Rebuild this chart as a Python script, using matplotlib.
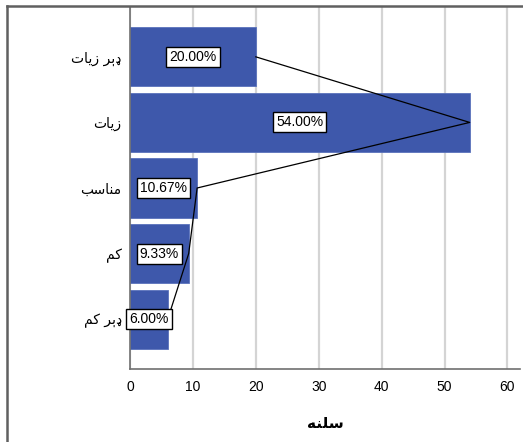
import matplotlib
matplotlib.use("Agg")
import matplotlib.pyplot as plt
from matplotlib.lines import Line2D

# Pashto labels, stored in shaped (visual) order since matplotlib has no bidi/shaping
categories = ["ﺕﺎﯾﺯ ﺮﯦډ", "ﺕﺎﯾﺯ", "ﺐﺳﺎﻨﻣ", "ﻢﮐ", "ﻢﮐ ﺮﯦډ"]
percents = [20.00, 54.00, 10.67, 9.33, 6.00]
xticks = [0, 10, 20, 30, 40, 50, 60]
xlabel = "ﻪﻨﻠﺳ"

plt.rcParams['font.family'] = ['Liberation Sans', 'DejaVu Sans']

fig = plt.figure(figsize=(5.23, 4.42), dpi=100)
W, H = 523, 442
ax = fig.add_axes([130 / W, 1 - 369 / H, 390 / W, 362 / H])

pos = list(range(len(categories)))
ax.barh(pos, percents, height=0.9, color="#3e58ab", edgecolor="#5a72bb",
        linewidth=0.6, zorder=2)

# line through bar ends
ax.plot(percents, pos, color="black", linewidth=0.9, zorder=3)

for p, v in zip(pos, percents):
    ax.text(v / 2, p, f"{v:.2f}%", ha="center", va="center", fontsize=10,
            zorder=4,
            bbox=dict(boxstyle="square,pad=0.22", facecolor="white",
                      edgecolor="black", linewidth=1.0))

ax.set_xlim(0, 62)
ax.set_ylim(4.76, -0.76)
ax.set_xticks(xticks)
ax.set_yticks(pos)
ax.set_yticklabels(categories, fontsize=11.5,
                   family=['DejaVu Sans'])
ax.tick_params(axis='both', length=0, pad=6, labelsize=10)
ax.tick_params(axis='x', pad=8)
ax.xaxis.grid(True, color="#d4d4d4", linewidth=1.6, zorder=0)
ax.set_axisbelow(True)
for s in ["top", "right"]:
    ax.spines[s].set_visible(False)
for s in ["left", "bottom"]:
    ax.spines[s].set_color("#707070")
    ax.spines[s].set_linewidth(1.2)
ax.set_xlabel(xlabel, fontsize=11, family=['DejaVu Sans'], labelpad=16,
              fontweight="bold")

# outer frame (top and left)
fig.add_artist(Line2D([7 / W, 1], [1 - 6 / H, 1 - 6 / H],
                      transform=fig.transFigure, color="#606060", linewidth=1.8))
fig.add_artist(Line2D([7 / W, 7 / W], [0, 1 - 6 / H],
                      transform=fig.transFigure, color="#606060", linewidth=1.8))

fig.savefig("out.png", dpi=100)
